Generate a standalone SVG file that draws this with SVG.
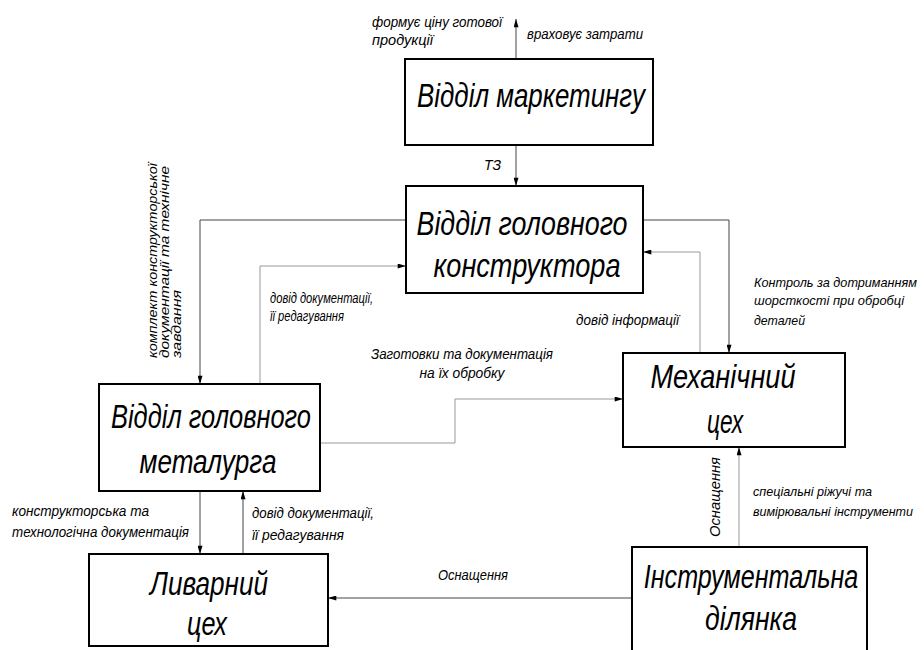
<svg xmlns="http://www.w3.org/2000/svg" width="924" height="650" viewBox="0 0 924 650">
<style>
.box{fill:#fff;stroke:#000;stroke-width:2}
.t{font-family:"Liberation Sans","DejaVu Sans",sans-serif;font-style:italic;fill:#000}
.big{font-size:34px;text-anchor:middle}
.sm{font-size:14px}
.s13{font-size:13px}
.vs{font-size:12.5px}
.ln{fill:none;stroke:#444;stroke-width:1}
.lg{fill:none;stroke:#999;stroke-width:1}
</style>
<defs>
<marker id="ar" viewBox="0 0 10 6" markerUnits="userSpaceOnUse" markerWidth="10" markerHeight="5" refX="10" refY="3" orient="auto">
<path d="M0,0 L10,3 L0,6 z" fill="#000"/>
</marker>
</defs>
<rect width="924" height="650" fill="#fff"/>
<g id="connectors">
<path class="ln" d="M516,59 V19" marker-end="url(#ar)"/>
<path class="ln" d="M516,145 V186" marker-end="url(#ar)"/>
<path class="ln" d="M406,220 H200 V384" marker-end="url(#ar)"/>
<path class="lg" d="M260,384 V266 H406" marker-end="url(#ar)"/>
<path class="lg" d="M320,443 H455 V399 H623" marker-end="url(#ar)"/>
<path class="ln" d="M643,220 H729 V353" marker-end="url(#ar)"/>
<path class="lg" d="M700,353 V252 H643" marker-end="url(#ar)"/>
<path class="ln" d="M200,491 V554" marker-end="url(#ar)"/>
<path class="ln" d="M243,554 V491" marker-end="url(#ar)"/>
<path class="lg" d="M739,547 V447" marker-end="url(#ar)"/>
<path class="ln" d="M632,598 H328" marker-end="url(#ar)"/>
</g>
<g id="labels">
<text class="t sm" x="372" y="27" textLength="130" lengthAdjust="spacingAndGlyphs">формує ціну готової</text>
<text class="t sm" x="372" y="45" textLength="61" lengthAdjust="spacingAndGlyphs">продукції</text>
<text class="t sm" x="527" y="39" textLength="116" lengthAdjust="spacingAndGlyphs">враховує затрати</text>
<text class="t sm" x="484" y="170" textLength="17" lengthAdjust="spacingAndGlyphs">ТЗ</text>
<g transform="translate(0,358) rotate(-90)">
<text class="t vs" x="0" y="157" textLength="195" lengthAdjust="spacingAndGlyphs">комплект конструкторської</text>
<text class="t vs" x="0" y="169" textLength="192" lengthAdjust="spacingAndGlyphs">документації та технічне</text>
<text class="t vs" x="0" y="181" textLength="68" lengthAdjust="spacingAndGlyphs">завдання</text>
</g>
<text class="t sm" x="270" y="303" textLength="103" lengthAdjust="spacingAndGlyphs">довід документації,</text>
<text class="t sm" x="270" y="321" textLength="74" lengthAdjust="spacingAndGlyphs">її редагування</text>
<text class="t sm" x="462" y="359" text-anchor="middle" textLength="182" lengthAdjust="spacingAndGlyphs">Заготовки та документація</text>
<text class="t sm" x="462" y="378" text-anchor="middle" textLength="85" lengthAdjust="spacingAndGlyphs">на їх обробку</text>
<text class="t sm" x="576" y="325" textLength="103" lengthAdjust="spacingAndGlyphs">довід інформації</text>
<text class="t s13" x="754" y="287" textLength="163" lengthAdjust="spacingAndGlyphs">Контроль за дотриманням</text>
<text class="t s13" x="754" y="305" textLength="150" lengthAdjust="spacingAndGlyphs">шорсткості при обробці</text>
<text class="t s13" x="754" y="325" textLength="51" lengthAdjust="spacingAndGlyphs">деталей</text>
<text class="t sm" x="12" y="516" textLength="137" lengthAdjust="spacingAndGlyphs">конструкторська та</text>
<text class="t sm" x="12" y="537" textLength="177" lengthAdjust="spacingAndGlyphs">технологічна документація</text>
<text class="t sm" x="252" y="518" textLength="122" lengthAdjust="spacingAndGlyphs">довід документації,</text>
<text class="t sm" x="252" y="540" textLength="92" lengthAdjust="spacingAndGlyphs">її редагування</text>
<text class="t s13" x="753" y="496" textLength="119" lengthAdjust="spacingAndGlyphs">спеціальні ріжучі та</text>
<text class="t s13" x="753" y="516" textLength="160" lengthAdjust="spacingAndGlyphs">вимірювальні інструменти</text>
<text class="t sm" transform="translate(720,537) rotate(-90)" x="0" y="0" textLength="80" lengthAdjust="spacingAndGlyphs">Оснащення</text>
<text class="t sm" x="438" y="580" textLength="70" lengthAdjust="spacingAndGlyphs">Оснащення</text>
</g>
<g id="marketing">
<rect class="box" x="405" y="59" width="248" height="86"/>
<text class="t big" x="531" y="107" font-size="33" textLength="228" lengthAdjust="spacingAndGlyphs">Відділ маркетингу</text>
</g>
<g id="constructor">
<rect class="box" x="406" y="186" width="237" height="107"/>
<text class="t big" x="522" y="235" font-size="38" textLength="211" lengthAdjust="spacingAndGlyphs">Відділ головного</text>
<text class="t big" x="527" y="277" font-size="38" textLength="187" lengthAdjust="spacingAndGlyphs">конструктора</text>
</g>
<g id="metallurgist">
<rect class="box" x="99" y="384" width="221" height="107"/>
<text class="t big" x="211" y="428" font-size="30" textLength="200" lengthAdjust="spacingAndGlyphs">Відділ головного</text>
<text class="t big" x="208" y="473" font-size="30" textLength="137" lengthAdjust="spacingAndGlyphs">металурга</text>
</g>
<g id="mechanical">
<rect class="box" x="623" y="353" width="222" height="94"/>
<text class="t big" x="723" y="388" font-size="34" textLength="145" lengthAdjust="spacingAndGlyphs">Механічний</text>
<text class="t big" x="725" y="433" font-size="34" textLength="36" lengthAdjust="spacingAndGlyphs">цех</text>
</g>
<g id="foundry">
<rect class="box" x="89" y="554" width="239" height="92"/>
<text class="t big" x="209" y="595" font-size="32" textLength="118" lengthAdjust="spacingAndGlyphs">Ливарний</text>
<text class="t big" x="207" y="635" font-size="32" textLength="40" lengthAdjust="spacingAndGlyphs">цех</text>
</g>
<g id="tooling">
<rect class="box" x="632" y="547" width="235" height="110"/>
<text class="t big" transform="translate(751,588) scale(0.74,1)" x="0" y="0" font-size="34">Інструментальна</text>
<text class="t big" x="751" y="630" font-size="34" textLength="92" lengthAdjust="spacingAndGlyphs">ділянка</text>
</g>
</svg>
